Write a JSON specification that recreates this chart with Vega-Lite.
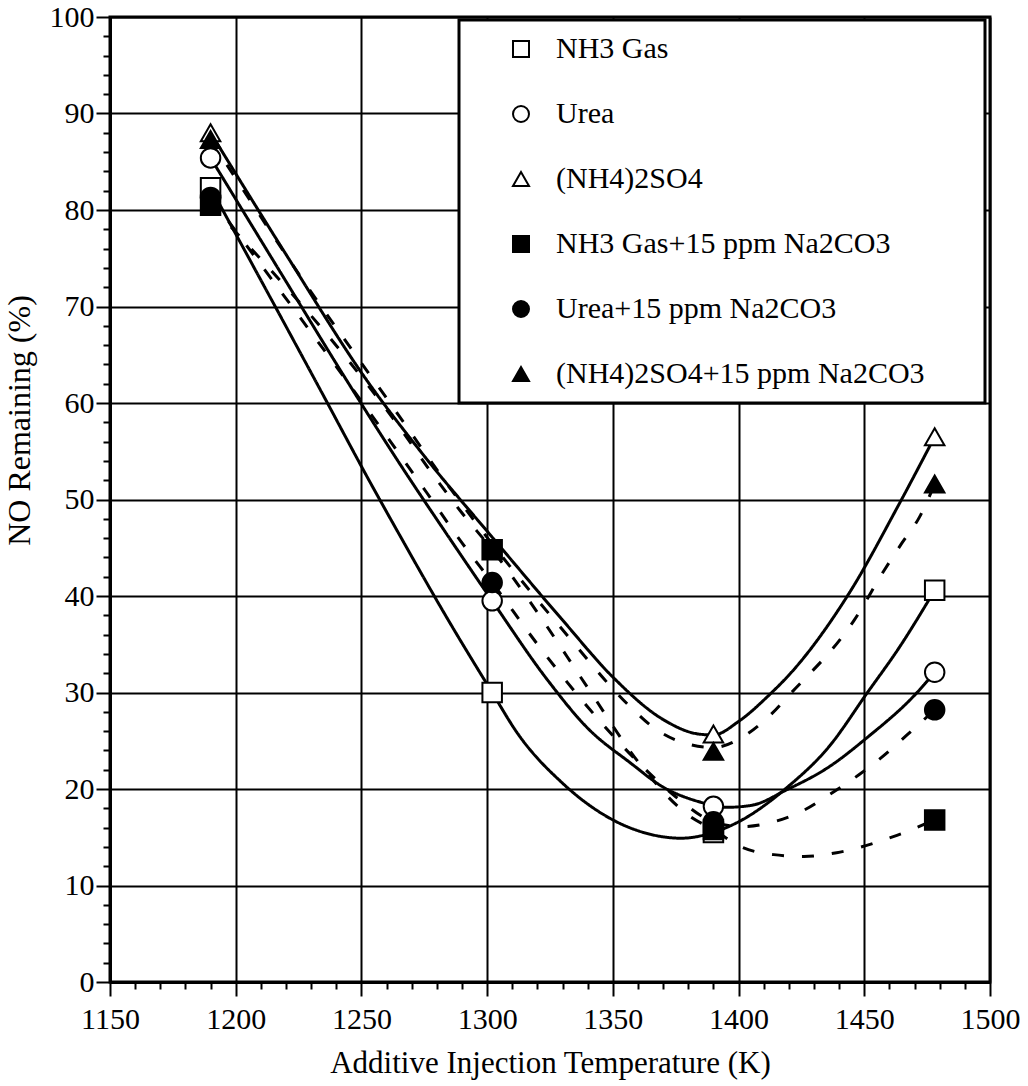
{
  "$schema": "https://vega.github.io/schema/vega-lite/v6.json",
  "width": 880,
  "height": 965,
  "autosize": "none",
  "padding": {"left": 110, "top": 17, "right": 38, "bottom": 104},
  "background": "white",
  "config": {
    "view": {"stroke": "black", "strokeWidth": 3},
    "font": "Liberation Serif",
    "style": {
      "guide-label": {"font": "Liberation Serif", "fill": "black"},
      "guide-title": {"font": "Liberation Serif", "fill": "black"}
    },
    "axis": {
      "domainColor": "black", "domainWidth": 3, "tickColor": "black", "tickWidth": 2,
      "gridColor": "black", "gridWidth": 2,
      "labelFont": "Liberation Serif", "labelFontSize": 30, "labelColor": "black",
      "titleFont": "Liberation Serif", "titleFontSize": 31, "titleFontWeight": "normal", "titleColor": "black",
      "labelOverlap": false, "labelBound": false, "labelFlush": false
    },
    "legend": {
      "orient": "none", "legendX": 349, "legendY": 3,
      "fillColor": "white", "strokeColor": "black", "strokeWidth": 3,
      "padding": 14, "rowPadding": 35,
      "symbolOffset": 33, "labelOffset": 20,
      "symbolSize": 256, "symbolStrokeWidth": 2,
      "labelFont": "Liberation Serif", "labelFontSize": 30, "labelColor": "black", "labelLimit": 600,
      "titleOrient": "right", "titlePadding": 46, "titleFontSize": 10
    }
  },
  "datasets": {
    "points": [
      {"series": "NH3 Gas", "T": 1190, "v": 82.3},
      {"series": "NH3 Gas", "T": 1302, "v": 30.0},
      {"series": "NH3 Gas", "T": 1390, "v": 15.5},
      {"series": "NH3 Gas", "T": 1478, "v": 40.6},
      {"series": "Urea", "T": 1190, "v": 85.4},
      {"series": "Urea", "T": 1302, "v": 39.5},
      {"series": "Urea", "T": 1390, "v": 18.2},
      {"series": "Urea", "T": 1478, "v": 32.1},
      {"series": "(NH4)2SO4", "T": 1190, "v": 88.0},
      {"series": "(NH4)2SO4", "T": 1390, "v": 25.7},
      {"series": "(NH4)2SO4", "T": 1478, "v": 56.5},
      {"series": "NH3 Gas+15 ppm Na2CO3", "T": 1190, "v": 80.5},
      {"series": "NH3 Gas+15 ppm Na2CO3", "T": 1302, "v": 44.8},
      {"series": "NH3 Gas+15 ppm Na2CO3", "T": 1390, "v": 15.8},
      {"series": "NH3 Gas+15 ppm Na2CO3", "T": 1478, "v": 16.8},
      {"series": "Urea+15 ppm Na2CO3", "T": 1190, "v": 81.3},
      {"series": "Urea+15 ppm Na2CO3", "T": 1302, "v": 41.4},
      {"series": "Urea+15 ppm Na2CO3", "T": 1390, "v": 16.6},
      {"series": "Urea+15 ppm Na2CO3", "T": 1478, "v": 28.2},
      {"series": "(NH4)2SO4+15 ppm Na2CO3", "T": 1190, "v": 87.3},
      {"series": "(NH4)2SO4+15 ppm Na2CO3", "T": 1390, "v": 23.9},
      {"series": "(NH4)2SO4+15 ppm Na2CO3", "T": 1478, "v": 51.6}
    ],
    "curves": [
      {"series": "NH3 Gas", "T": 1190, "v": 82.3},
      {"series": "NH3 Gas", "T": 1234, "v": 61.2},
      {"series": "NH3 Gas", "T": 1253, "v": 52.0},
      {"series": "NH3 Gas", "T": 1265, "v": 46.4},
      {"series": "NH3 Gas", "T": 1285, "v": 37.3},
      {"series": "NH3 Gas", "T": 1302, "v": 30.0},
      {"series": "NH3 Gas", "T": 1312, "v": 25.8},
      {"series": "NH3 Gas", "T": 1330, "v": 20.6},
      {"series": "NH3 Gas", "T": 1350, "v": 16.8},
      {"series": "NH3 Gas", "T": 1365, "v": 15.3},
      {"series": "NH3 Gas", "T": 1377, "v": 14.9},
      {"series": "NH3 Gas", "T": 1390, "v": 15.5},
      {"series": "NH3 Gas", "T": 1400, "v": 16.6},
      {"series": "NH3 Gas", "T": 1419, "v": 20.1},
      {"series": "NH3 Gas", "T": 1436, "v": 24.4},
      {"series": "NH3 Gas", "T": 1451, "v": 29.9},
      {"series": "NH3 Gas", "T": 1464, "v": 34.7},
      {"series": "NH3 Gas", "T": 1478, "v": 40.6},
      {"series": "Urea", "T": 1190, "v": 85.4},
      {"series": "Urea", "T": 1220, "v": 72.6},
      {"series": "Urea", "T": 1244, "v": 62.4},
      {"series": "Urea", "T": 1265, "v": 53.8},
      {"series": "Urea", "T": 1285, "v": 46.0},
      {"series": "Urea", "T": 1302, "v": 39.5},
      {"series": "Urea", "T": 1324, "v": 31.3},
      {"series": "Urea", "T": 1340, "v": 26.3},
      {"series": "Urea", "T": 1357, "v": 22.7},
      {"series": "Urea", "T": 1370, "v": 20.2},
      {"series": "Urea", "T": 1384, "v": 18.7},
      {"series": "Urea", "T": 1395, "v": 18.1},
      {"series": "Urea", "T": 1405, "v": 18.3},
      {"series": "Urea", "T": 1419, "v": 19.9},
      {"series": "Urea", "T": 1436, "v": 22.3},
      {"series": "Urea", "T": 1451, "v": 25.3},
      {"series": "Urea", "T": 1471, "v": 30.0},
      {"series": "Urea", "T": 1478, "v": 32.1},
      {"series": "(NH4)2SO4", "T": 1190, "v": 88.0},
      {"series": "(NH4)2SO4", "T": 1220, "v": 75.4},
      {"series": "(NH4)2SO4", "T": 1252, "v": 62.4},
      {"series": "(NH4)2SO4", "T": 1275, "v": 54.5},
      {"series": "(NH4)2SO4", "T": 1302, "v": 46.1},
      {"series": "(NH4)2SO4", "T": 1330, "v": 37.5},
      {"series": "(NH4)2SO4", "T": 1350, "v": 31.6},
      {"series": "(NH4)2SO4", "T": 1370, "v": 27.2},
      {"series": "(NH4)2SO4", "T": 1384, "v": 25.7},
      {"series": "(NH4)2SO4", "T": 1390, "v": 25.6},
      {"series": "(NH4)2SO4", "T": 1400, "v": 27.0},
      {"series": "(NH4)2SO4", "T": 1412, "v": 29.7},
      {"series": "(NH4)2SO4", "T": 1420, "v": 31.8},
      {"series": "(NH4)2SO4", "T": 1444, "v": 40.3},
      {"series": "(NH4)2SO4", "T": 1464, "v": 49.6},
      {"series": "(NH4)2SO4", "T": 1478, "v": 56.5},
      {"series": "NH3 Gas+15 ppm Na2CO3", "T": 1190, "v": 80.5},
      {"series": "NH3 Gas+15 ppm Na2CO3", "T": 1253, "v": 61.7},
      {"series": "NH3 Gas+15 ppm Na2CO3", "T": 1264, "v": 57.9},
      {"series": "NH3 Gas+15 ppm Na2CO3", "T": 1277, "v": 53.1},
      {"series": "NH3 Gas+15 ppm Na2CO3", "T": 1290, "v": 48.6},
      {"series": "NH3 Gas+15 ppm Na2CO3", "T": 1302, "v": 44.8},
      {"series": "NH3 Gas+15 ppm Na2CO3", "T": 1320, "v": 38.3},
      {"series": "NH3 Gas+15 ppm Na2CO3", "T": 1340, "v": 30.5},
      {"series": "NH3 Gas+15 ppm Na2CO3", "T": 1361, "v": 22.5},
      {"series": "NH3 Gas+15 ppm Na2CO3", "T": 1381, "v": 17.1},
      {"series": "NH3 Gas+15 ppm Na2CO3", "T": 1390, "v": 15.8},
      {"series": "NH3 Gas+15 ppm Na2CO3", "T": 1401, "v": 14.0},
      {"series": "NH3 Gas+15 ppm Na2CO3", "T": 1414, "v": 13.2},
      {"series": "NH3 Gas+15 ppm Na2CO3", "T": 1426, "v": 13.0},
      {"series": "NH3 Gas+15 ppm Na2CO3", "T": 1439, "v": 13.4},
      {"series": "NH3 Gas+15 ppm Na2CO3", "T": 1463, "v": 15.2},
      {"series": "NH3 Gas+15 ppm Na2CO3", "T": 1478, "v": 16.8},
      {"series": "Urea+15 ppm Na2CO3", "T": 1190, "v": 81.3},
      {"series": "Urea+15 ppm Na2CO3", "T": 1261, "v": 56.2},
      {"series": "Urea+15 ppm Na2CO3", "T": 1276, "v": 50.7},
      {"series": "Urea+15 ppm Na2CO3", "T": 1290, "v": 45.5},
      {"series": "Urea+15 ppm Na2CO3", "T": 1302, "v": 41.4},
      {"series": "Urea+15 ppm Na2CO3", "T": 1320, "v": 35.0},
      {"series": "Urea+15 ppm Na2CO3", "T": 1340, "v": 28.5},
      {"series": "Urea+15 ppm Na2CO3", "T": 1360, "v": 22.8},
      {"series": "Urea+15 ppm Na2CO3", "T": 1375, "v": 19.2},
      {"series": "Urea+15 ppm Na2CO3", "T": 1390, "v": 16.6},
      {"series": "Urea+15 ppm Na2CO3", "T": 1401, "v": 16.1},
      {"series": "Urea+15 ppm Na2CO3", "T": 1414, "v": 16.6},
      {"series": "Urea+15 ppm Na2CO3", "T": 1426, "v": 17.8},
      {"series": "Urea+15 ppm Na2CO3", "T": 1436, "v": 19.4},
      {"series": "Urea+15 ppm Na2CO3", "T": 1448, "v": 21.5},
      {"series": "Urea+15 ppm Na2CO3", "T": 1457, "v": 23.3},
      {"series": "Urea+15 ppm Na2CO3", "T": 1467, "v": 25.6},
      {"series": "Urea+15 ppm Na2CO3", "T": 1478, "v": 28.2},
      {"series": "(NH4)2SO4+15 ppm Na2CO3", "T": 1190, "v": 87.3},
      {"series": "(NH4)2SO4+15 ppm Na2CO3", "T": 1230, "v": 71.5},
      {"series": "(NH4)2SO4+15 ppm Na2CO3", "T": 1260, "v": 60.5},
      {"series": "(NH4)2SO4+15 ppm Na2CO3", "T": 1290, "v": 49.5},
      {"series": "(NH4)2SO4+15 ppm Na2CO3", "T": 1302, "v": 45.4},
      {"series": "(NH4)2SO4+15 ppm Na2CO3", "T": 1330, "v": 36.5},
      {"series": "(NH4)2SO4+15 ppm Na2CO3", "T": 1357, "v": 28.5},
      {"series": "(NH4)2SO4+15 ppm Na2CO3", "T": 1366, "v": 26.4},
      {"series": "(NH4)2SO4+15 ppm Na2CO3", "T": 1378, "v": 24.8},
      {"series": "(NH4)2SO4+15 ppm Na2CO3", "T": 1390, "v": 24.3},
      {"series": "(NH4)2SO4+15 ppm Na2CO3", "T": 1401, "v": 25.3},
      {"series": "(NH4)2SO4+15 ppm Na2CO3", "T": 1412, "v": 27.5},
      {"series": "(NH4)2SO4+15 ppm Na2CO3", "T": 1420, "v": 29.7},
      {"series": "(NH4)2SO4+15 ppm Na2CO3", "T": 1446, "v": 37.5},
      {"series": "(NH4)2SO4+15 ppm Na2CO3", "T": 1458, "v": 42.7},
      {"series": "(NH4)2SO4+15 ppm Na2CO3", "T": 1465, "v": 45.5},
      {"series": "(NH4)2SO4+15 ppm Na2CO3", "T": 1472, "v": 48.2},
      {"series": "(NH4)2SO4+15 ppm Na2CO3", "T": 1478, "v": 51.6}
    ]
  },
  "encoding": {
    "x": {
      "field": "T", "type": "quantitative",
      "scale": {"domain": [1150, 1500], "nice": false, "zero": false},
      "axis": {
        "title": "Additive Injection Temperature (K)",
        "values": [1150,1160,1170,1180,1190,1200,1210,1220,1230,1240,1250,1260,1270,1280,1290,1300,1310,1320,1330,1340,1350,1360,1370,1380,1390,1400,1410,1420,1430,1440,1450,1460,1470,1480,1490,1500],
        "format": "d",
        "labelExpr": "datum.value % 50 === 0 ? datum.label : ''",
        "tickSize": {"condition": {"test": "datum.value % 50 === 0", "value": 14}, "value": 7},
        "gridOpacity": {"condition": {"test": "datum.value % 50 === 0", "value": 1}, "value": 0},
        "labelPadding": 8,
        "titlePadding": 14
      }
    },
    "y": {
      "field": "v", "type": "quantitative",
      "scale": {"domain": [0, 100], "nice": false},
      "axis": {
        "title": "NO Remaining (%)",
        "titleFontSize": 32,
        "values": [0,2,4,6,8,10,12,14,16,18,20,22,24,26,28,30,32,34,36,38,40,42,44,46,48,50,52,54,56,58,60,62,64,66,68,70,72,74,76,78,80,82,84,86,88,90,92,94,96,98,100],
        "labelExpr": "datum.value % 10 === 0 ? datum.label : ''",
        "tickSize": {"condition": {"test": "datum.value % 10 === 0", "value": 14}, "value": 7},
        "gridOpacity": {"condition": {"test": "datum.value % 10 === 0", "value": 1}, "value": 0},
        "labelPadding": 2,
        "titleX": -74,
        "titleY": 403
      }
    }
  },
  "layer": [
    {
      "data": {"name": "curves"},
      "mark": {"type": "line", "interpolate": "monotone", "color": "black", "strokeWidth": 3},
      "encoding": {
        "detail": {"field": "series"},
        "strokeDash": {
          "field": "series", "type": "nominal", "legend": null,
          "scale": {
            "domain": ["NH3 Gas", "Urea", "(NH4)2SO4", "NH3 Gas+15 ppm Na2CO3", "Urea+15 ppm Na2CO3", "(NH4)2SO4+15 ppm Na2CO3"],
            "range": [[1, 0], [1, 0], [1, 0], [12, 18], [12, 18], [12, 18]]
          }
        }
      }
    },
    {
      "data": {"name": "points"},
      "mark": {"type": "point", "filled": true, "opacity": 1, "size": 380},
      "encoding": {
        "stroke": {"value": "black"},
        "strokeWidth": {"value": 2},
        "shape": {
          "field": "series", "type": "nominal", "title": " ",
          "scale": {
            "domain": ["NH3 Gas", "Urea", "(NH4)2SO4", "NH3 Gas+15 ppm Na2CO3", "Urea+15 ppm Na2CO3", "(NH4)2SO4+15 ppm Na2CO3"],
            "range": ["square", "circle", "triangle-up", "square", "circle", "triangle-up"]
          }
        },
        "fill": {
          "field": "series", "type": "nominal", "title": " ",
          "scale": {
            "domain": ["NH3 Gas", "Urea", "(NH4)2SO4", "NH3 Gas+15 ppm Na2CO3", "Urea+15 ppm Na2CO3", "(NH4)2SO4+15 ppm Na2CO3"],
            "range": ["white", "white", "white", "black", "black", "black"]
          }
        }
      }
    }
  ],
  "resolve": {"legend": {"strokeDash": "independent"}}
}
